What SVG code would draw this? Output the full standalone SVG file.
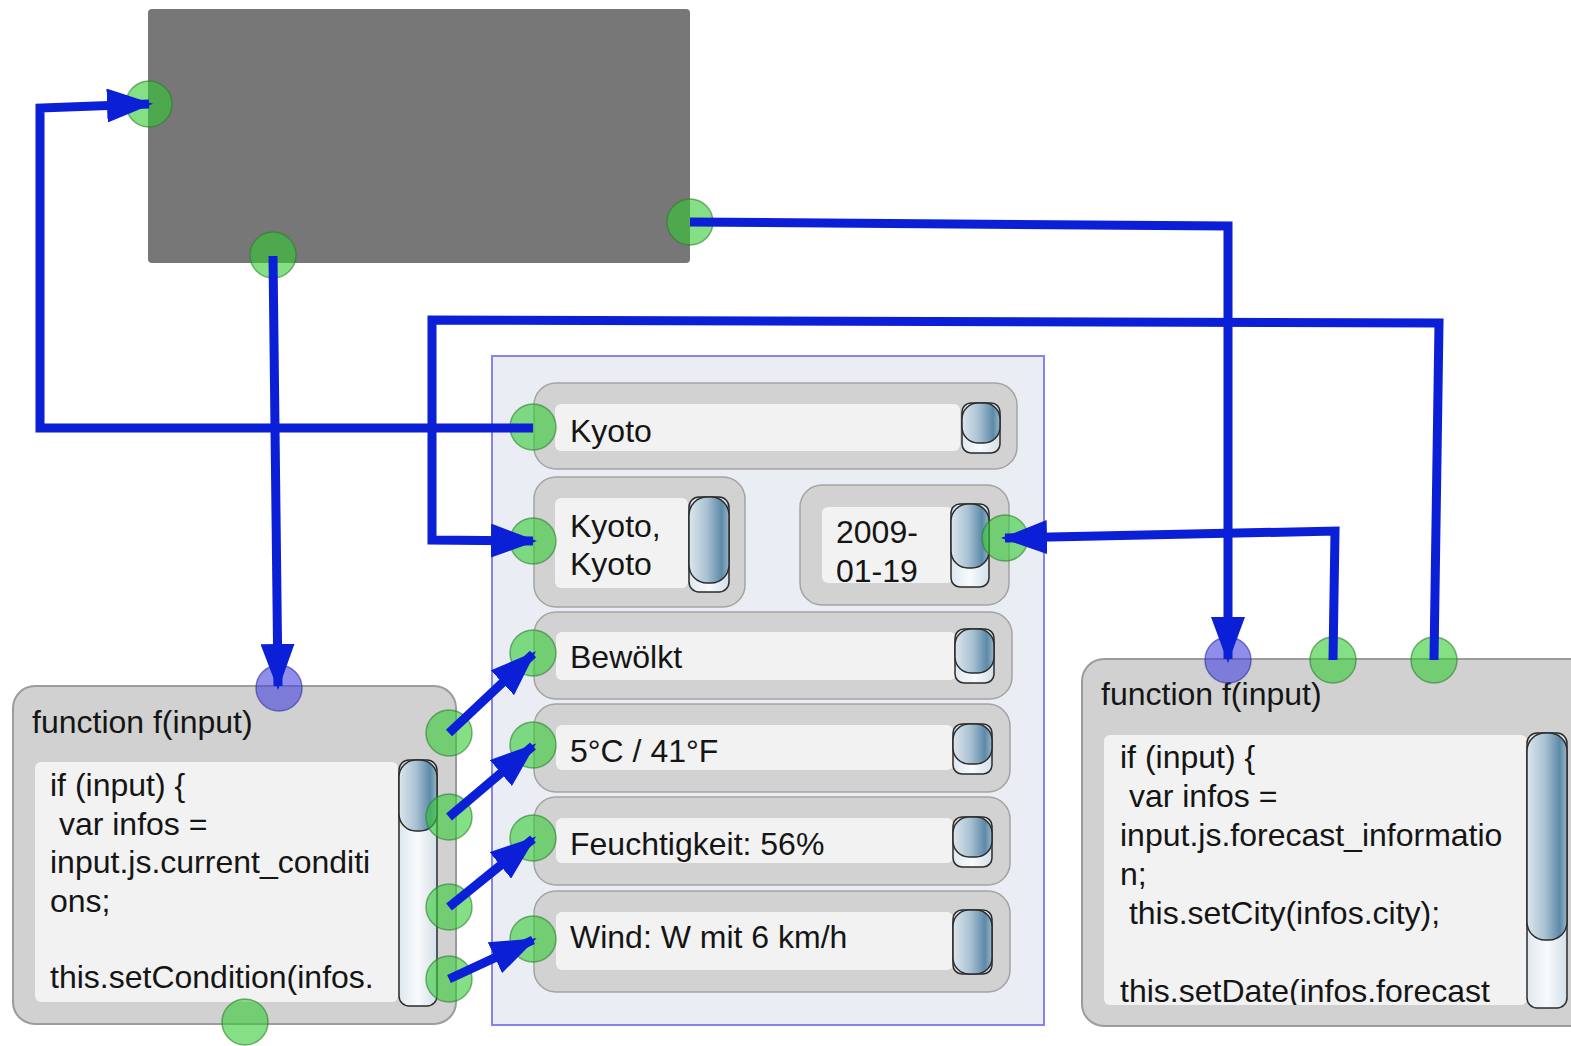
<svg xmlns="http://www.w3.org/2000/svg" width="1571" height="1046" viewBox="0 0 1571 1046">
  <defs>
    <style>
      text { font-family: "Liberation Sans", Arial, Helvetica, sans-serif; font-size: 32px; fill: #151515; }
      .box { fill: #d1d1d1; stroke: #9c9c9c; stroke-width: 2; }
      .widget { fill: #d2d2d2; stroke: #a4a4a4; stroke-width: 1.5; }
      .field { fill: #f2f2f2; }
      .track { fill: url(#trackGrad); stroke: #2b2b2b; stroke-width: 1.5; }
      .knob { fill: url(#knobGrad); stroke: #2b2b2b; stroke-width: 1.5; }
      .port { fill: #33cc33; fill-opacity: 0.6; stroke: #2a7f2a; stroke-opacity: 0.6; stroke-width: 1.5; }
      .port-in { fill: #4545dd; fill-opacity: 0.6; stroke: #3030a0; stroke-opacity: 0.6; stroke-width: 1.5; }
      .wire { fill: none; stroke: #0a1fd6; stroke-width: 9; stroke-linejoin: miter; marker-end: url(#arrow); }
    </style>
    <linearGradient id="knobGrad" x1="0" y1="0" x2="1" y2="0">
      <stop offset="0" stop-color="#dce6ed"/>
      <stop offset="0.45" stop-color="#a8c1d2"/>
      <stop offset="0.82" stop-color="#5d8aa8"/>
      <stop offset="1" stop-color="#98b6ca"/>
    </linearGradient>
    <linearGradient id="trackGrad" x1="0" y1="0" x2="1" y2="0">
      <stop offset="0" stop-color="#dfe8ef"/>
      <stop offset="0.5" stop-color="#f8fafc"/>
      <stop offset="1" stop-color="#d3dfe8"/>
    </linearGradient>
    <marker id="arrow" markerUnits="userSpaceOnUse" markerWidth="46" markerHeight="34" refX="42" refY="17" orient="auto">
      <path d="M0,0 L46,17 L0,34 z" fill="#0a1fd6"/>
    </marker>
    <clipPath id="clipRightCode">
      <rect x="1104" y="735" width="423" height="270"/>
    </clipPath>
    <clipPath id="clipLeftCode">
      <rect x="35" y="762" width="363" height="240"/>
    </clipPath>
  </defs>

  <!-- source block -->
  <g id="source">
    <rect x="148" y="9" width="542" height="254" rx="4" fill="#777777"/>
    <circle class="port" cx="149" cy="104" r="23"/>
    <circle class="port" cx="273" cy="255" r="23"/>
    <circle class="port" cx="690" cy="222" r="23"/>
  </g>

  <!-- form container -->
  <g id="form">
    <rect x="492" y="356" width="552" height="669" fill="#eaeef4" stroke="#8585e6" stroke-width="2"/>
  </g>

  <g id="city">
    <rect class="widget" x="534" y="383" width="483" height="86" rx="22"/>
    <rect class="field" x="555" y="404" width="405" height="47" rx="6"/>
    <rect class="track" x="962" y="403" width="38" height="50" rx="9"/>
    <rect class="knob" x="962" y="403" width="38" height="40" rx="16"/>
    <text x="570" y="442">Kyoto</text>
    <circle class="port" cx="533" cy="427" r="23"/>
  </g>

  <g id="cityFull">
    <rect class="widget" x="534" y="477" width="211" height="130" rx="22"/>
    <rect class="field" x="555" y="498" width="133" height="90" rx="6"/>
    <rect class="track" x="689" y="497" width="40" height="95" rx="10"/>
    <rect class="knob" x="689" y="497" width="40" height="86" rx="18"/>
    <text x="570" y="537">Kyoto,</text>
    <text x="570" y="575">Kyoto</text>
    <circle class="port" cx="533" cy="541" r="23"/>
  </g>

  <g id="date">
    <rect class="widget" x="800" y="485" width="209" height="120" rx="22"/>
    <rect class="field" x="822" y="507" width="131" height="76" rx="6"/>
    <rect class="track" x="951" y="504" width="38" height="83" rx="9"/>
    <rect class="knob" x="951" y="504" width="38" height="64" rx="17"/>
    <text x="836" y="543">2009-</text>
    <text x="836" y="582">01-19</text>
    <circle class="port" cx="1005" cy="538" r="23"/>
  </g>

  <g id="condition">
    <rect class="widget" x="534" y="612" width="478" height="87" rx="22"/>
    <rect class="field" x="556" y="632" width="400" height="48" rx="6"/>
    <rect class="track" x="955" y="629" width="39" height="54" rx="9"/>
    <rect class="knob" x="955" y="629" width="39" height="44" rx="16"/>
    <text x="570" y="668">Bewölkt</text>
    <circle class="port" cx="533" cy="653" r="23"/>
  </g>

  <g id="temperature">
    <rect class="widget" x="534" y="704" width="476" height="88" rx="22"/>
    <rect class="field" x="556" y="725" width="397" height="45" rx="6"/>
    <rect class="track" x="953" y="724" width="39" height="50" rx="9"/>
    <rect class="knob" x="953" y="724" width="39" height="40" rx="16"/>
    <text x="570" y="762">5°C / 41°F</text>
    <circle class="port" cx="533" cy="745" r="23"/>
  </g>

  <g id="humidity">
    <rect class="widget" x="534" y="797" width="476" height="88" rx="22"/>
    <rect class="field" x="556" y="818" width="397" height="45" rx="6"/>
    <rect class="track" x="953" y="817" width="39" height="50" rx="9"/>
    <rect class="knob" x="953" y="817" width="39" height="40" rx="16"/>
    <text x="570" y="855">Feuchtigkeit: 56%</text>
    <circle class="port" cx="533" cy="838" r="23"/>
  </g>

  <g id="wind">
    <rect class="widget" x="534" y="891" width="476" height="101" rx="22"/>
    <rect class="field" x="556" y="912" width="397" height="58" rx="6"/>
    <rect class="track" x="953" y="910" width="39" height="64" rx="9"/>
    <rect class="knob" x="953" y="910" width="39" height="64" rx="16"/>
    <text x="570" y="948">Wind: W mit 6 km/h</text>
    <circle class="port" cx="533" cy="939" r="23"/>
  </g>

  <!-- current conditions script -->
  <g id="conditionsScript">
    <rect class="box" x="13" y="686" width="443" height="338" rx="22"/>
    <text x="32" y="733">function f(input)</text>
    <rect class="field" x="35" y="762" width="363" height="240" rx="6"/>
    <g clip-path="url(#clipLeftCode)">
      <text x="50" y="796" xml:space="preserve">if (input) {</text>
      <text x="50" y="835" xml:space="preserve"> var infos =</text>
      <text x="50" y="873">input.js.current_conditi</text>
      <text x="50" y="912">ons;</text>
      <text x="50" y="988">this.setCondition(infos.</text>
    </g>
    <rect class="track" x="399" y="760" width="38" height="246" rx="10"/>
    <rect class="knob" x="399" y="760" width="38" height="71" rx="17"/>
    <circle class="port-in" cx="279" cy="688" r="23"/>
    <circle class="port" cx="245" cy="1022" r="23"/>
    <circle class="port" cx="449" cy="733" r="23"/>
    <circle class="port" cx="449" cy="817" r="23"/>
    <circle class="port" cx="449" cy="907" r="23"/>
    <circle class="port" cx="449" cy="979" r="23"/>
  </g>

  <!-- forecast script -->
  <g id="forecastScript">
    <rect class="box" x="1082" y="659" width="520" height="367" rx="22"/>
    <text x="1101" y="705">function f(input)</text>
    <rect class="field" x="1104" y="735" width="423" height="270" rx="6"/>
    <g clip-path="url(#clipRightCode)">
      <text x="1120" y="768" xml:space="preserve">if (input) {</text>
      <text x="1120" y="807" xml:space="preserve"> var infos =</text>
      <text x="1120" y="846">input.js.forecast_informatio</text>
      <text x="1120" y="885">n;</text>
      <text x="1120" y="924" xml:space="preserve"> this.setCity(infos.city);</text>
      <text x="1120" y="1002">this.setDate(infos.forecast</text>
    </g>
    <rect class="track" x="1527" y="733" width="40" height="275" rx="10"/>
    <rect class="knob" x="1527" y="733" width="40" height="207" rx="18"/>
    <circle class="port-in" cx="1228" cy="660" r="23"/>
    <circle class="port" cx="1333" cy="660" r="23"/>
    <circle class="port" cx="1434" cy="660" r="23"/>
  </g>

  <!-- wires -->
  <g id="wires">
    <path class="wire" d="M533,428 L40,428 L40,108 L149,104"/>
    <path class="wire" d="M273,256 L278,686"/>
    <path class="wire" d="M690,222 L1228,226 L1228,659"/>
    <path class="wire" d="M1434,660 L1439,323 L432,320 L432,540 L533,541"/>
    <path class="wire" d="M1333,660 L1335,531 L1005,538"/>
    <path class="wire" d="M449,733 L533,654"/>
    <path class="wire" d="M449,817 L533,746"/>
    <path class="wire" d="M449,907 L533,839"/>
    <path class="wire" d="M449,979 L533,940"/>
  </g>
</svg>
